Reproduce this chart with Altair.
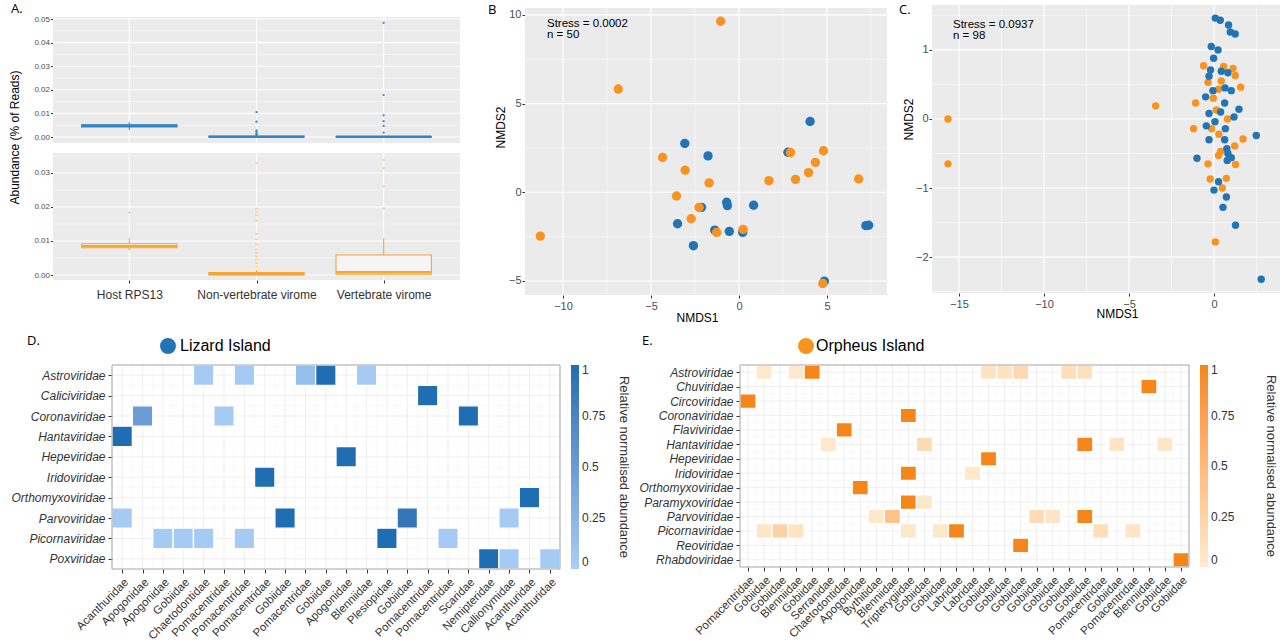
import json
import altair as alt
import pandas as pd

FONT = "Liberation Sans"
LETTER_FONT = "Open Sans"
W, H = 1280, 643
BLUE = "#2274b5"
ORANGE = "#f9931f"
BOX_BLUE = "#3585c5"
BOX_ORANGE = "#f6a635"
PANEL_BG = "#ebebeb"
ISLANDS = ["Lizard Island", "Orpheus Island"]

# ---------------- Panel A: boxplot summaries ----------------
a_categories = ["Host RPS13", "Non-vertebrate virome", "Vertebrate virome"]
a_liz_low = [0.0030, 0.0, 0.0]
a_liz_q1 = [0.0043, 0.0, 0.0]
a_liz_med = [0.0048, 0.0001, 0.0001]
a_liz_q3 = [0.0052, 0.0003, 0.0002]
a_liz_high = [0.0063, 0.0007, 0.0005]
a_liz_out_cat = [1, 1, 1, 1, 1, 1, 1, 2, 2, 2, 2, 2, 2]
a_liz_out_val = [0.0105, 0.0065, 0.0028, 0.0022, 0.0017, 0.0012, 0.0009,
                 0.0484, 0.0178, 0.0092, 0.0067, 0.0047, 0.0019]

a_orp_low = [0.0072, 0.0, 0.0]
a_orp_q1 = [0.0080, 0.0, 0.0002]
a_orp_med = [0.0085, 0.0003, 0.0008]
a_orp_q3 = [0.0092, 0.0007, 0.0059]
a_orp_high = [0.0108, 0.0015, 0.0108]
a_orp_out_cat = [0, 1, 1, 1, 1, 1, 1, 1, 1, 1, 1, 1, 1, 1, 1, 2, 2, 2, 2]
a_orp_out_val = [0.0184, 0.0330, 0.0195, 0.0185, 0.0175, 0.0160, 0.0120, 0.0105,
                 0.0090, 0.0075, 0.0065, 0.0055, 0.0045, 0.0035, 0.0025,
                 0.0338, 0.0314, 0.0260, 0.0196]
a_top_major = [0.0, 0.01, 0.02, 0.03, 0.04, 0.05]
a_top_minor = [0.005, 0.015, 0.025, 0.035, 0.045]
a_bot_major = [0.0, 0.01, 0.02, 0.03]
a_bot_minor = [0.005, 0.015, 0.025, 0.035]

# ---------------- Panel B: NMDS (n = 50) ----------------
b_stress = ["Stress = 0.0002", "n = 50"]
b_liz_x = [-3.08, -1.76, -3.49, -2.59, -2.13, -1.38, -0.70, -0.66, -0.55, 0.21, 0.83,
           2.78, 4.04, 4.85, 7.21, 7.37]
b_liz_y = [2.75, 2.05, -1.77, -3.01, -0.85, -2.13, -0.56, -0.75, -2.20, -2.26, -0.73,
           2.26, 3.99, -5.01, -1.88, -1.86]
b_orp_x = [-1.04, -6.86, -11.29, -4.34, -3.06, -1.70, -3.55, -2.27, -2.72, -1.27, 0.23,
           1.70, 2.93, 3.21, 3.95, 4.34, 4.80, 6.80, 4.76]
b_orp_y = [9.64, 5.82, -2.47, 1.96, 1.24, 0.53, -0.21, -0.85, -1.49, -2.26, -2.09,
           0.66, 2.24, 0.73, 1.11, 1.69, 2.34, 0.75, -5.14]
b_x_major = [-10, -5, 0, 5]
b_x_minor = [-7.5, -2.5, 2.5, 7.5]
b_y_major = [-5, 0, 5, 10]
b_y_minor = [-2.5, 2.5, 7.5]

# ---------------- Panel C: NMDS (n = 98) ----------------
c_stress = ["Stress = 0.0937", "n = 98"]
c_liz_x = [0.08, 0.37, 0.86, 0.96, 1.25, -0.16, 0.24, -0.02, -0.20, 0.43, -0.29, 0.82,
           -0.06, 0.65, 1.02, -0.49, 0.63, 1.47, -0.29, 0.39, 0.06, -0.45, 0.67, 1.18,
           2.49, -0.29, 0.63, 0.76, 0.82, 1.02, 0.78, -1.00, 0.27, 0.00, 0.73, 0.53,
           1.27, 2.78]
c_liz_y = [1.46, 1.43, 1.36, 1.26, 1.23, 1.05, 1.00, 0.88, 0.71, 0.69, 0.62, 0.67,
           0.41, 0.45, 0.41, 0.32, 0.23, 0.14, 0.08, 0.10, -0.04, -0.10, -0.14, 0.03,
           -0.24, -0.30, -0.30, -0.43, -0.50, -0.56, -0.60, -0.57, -0.91, -1.03, -1.13,
           -1.28, -1.54, -2.32]
c_orp_x = [-15.65, -15.65, -3.43, -0.61, 0.57, 1.12, 1.25, -0.35, 0.43, 0.27, 1.57,
           -0.04, -1.08, 0.14, 0.80, -1.20, -0.14, 0.29, 1.71, 1.22, 0.39, 0.27, -0.35,
           1.27, -0.22, 0.73, 0.49, 0.08]
c_orp_y = [0.00, -0.65, 0.19, 0.77, 0.76, 0.73, 0.63, 0.53, 0.55, 0.43, 0.46, 0.30,
           0.23, 0.13, 0.00, -0.14, -0.14, -0.22, -0.29, -0.39, -0.47, -0.53, -0.65,
           -0.66, -0.87, -0.86, -1.00, -1.78]
c_x_major = [-15, -10, -5, 0]
c_x_minor = [-12.5, -7.5, -2.5, 2.5]
c_y_major = [-2, -1, 0, 1]
c_y_minor = [-2.5, -1.5, -0.5, 0.5, 1.5]

# ---------------- Panel D: Lizard Island heatmap ----------------
d_rows = ["Astroviridae", "Caliciviridae", "Coronaviridae", "Hantaviridae", "Hepeviridae",
          "Iridoviridae", "Orthomyxoviridae", "Parvoviridae", "Picornaviridae", "Poxviridae"]
d_cols = ["Acanthuridae", "Apogonidae", "Apogonidae", "Gobiidae", "Chaetodontidae",
          "Pomacentridae", "Pomacentridae", "Pomacentridae", "Gobiidae", "Pomacentridae",
          "Gobiidae", "Apogonidae", "Blenniidae", "Plesiopidae", "Gobiidae", "Pomacentridae",
          "Pomacentridae", "Scaridae", "Nemipteridae", "Callionymidae", "Acanthuridae",
          "Acanthuridae"]
d_cell_row = ["Astroviridae"] * 5 + ["Caliciviridae"] + ["Coronaviridae"] * 3 + \
             ["Hantaviridae", "Hepeviridae", "Iridoviridae", "Orthomyxoviridae"] + \
             ["Parvoviridae"] * 4 + ["Picornaviridae"] * 6 + ["Poxviridae"] * 3
d_cell_col = [4, 6, 9, 10, 12, 15, 1, 5, 17, 0, 11, 7, 20, 0, 8, 14, 19,
              2, 3, 4, 6, 13, 16, 18, 19, 21]
d_cell_val = [0.03, 0.03, 0.15, 1.0, 0.03, 1.0, 0.5, 0.03, 1.0, 1.0, 1.0, 1.0, 1.0,
              0.03, 1.0, 0.9, 0.03, 0.03, 0.03, 0.03, 0.03, 1.0, 0.03, 1.0, 0.03, 0.03]

# ---------------- Panel E: Orpheus Island heatmap ----------------
e_rows = ["Astroviridae", "Chuviridae", "Circoviridae", "Coronaviridae", "Flaviviridae",
          "Hantaviridae", "Hepeviridae", "Iridoviridae", "Orthomyxoviridae",
          "Paramyxoviridae", "Parvoviridae", "Picornaviridae", "Reoviridae", "Rhabdoviridae"]
e_cols = ["Pomacentridae", "Gobiidae", "Gobiidae", "Blenniidae", "Gobiidae", "Serranidae",
          "Chaetodontidae", "Apogonidae", "Bythitidae", "Blenniidae", "Tripterygiidae",
          "Gobiidae", "Gobiidae", "Labridae", "Labridae", "Gobiidae", "Gobiidae", "Gobiidae",
          "Gobiidae", "Gobiidae", "Gobiidae", "Gobiidae", "Pomacentridae", "Gobiidae",
          "Pomacentridae", "Blenniidae", "Gobiidae", "Gobiidae"]
e_cell_row = ["Astroviridae"] * 8 + ["Chuviridae", "Circoviridae", "Coronaviridae",
              "Flaviviridae"] + ["Hantaviridae"] * 5 + ["Hepeviridae"] + \
             ["Iridoviridae"] * 2 + ["Orthomyxoviridae"] + ["Paramyxoviridae"] * 2 + \
             ["Parvoviridae"] * 5 + ["Picornaviridae"] * 8 + ["Reoviridae", "Rhabdoviridae"]
e_cell_col = [1, 3, 4, 15, 16, 17, 20, 21, 25, 0, 10, 6, 5, 11, 21, 23, 26, 15,
              10, 14, 7, 10, 11, 8, 9, 18, 19, 21, 1, 2, 3, 10, 12, 13, 22, 24, 17, 27]
e_cell_val = [0.04, 0.04, 1.0, 0.10, 0.10, 0.20, 0.14, 0.12, 1.0, 1.0, 1.0, 1.0,
              0.04, 0.18, 1.0, 0.08, 0.06, 1.0, 1.0, 0.05, 1.0, 1.0, 0.05,
              0.05, 0.42, 0.16, 0.08, 1.0, 0.06, 0.28, 0.08, 0.05, 0.05, 1.0, 0.14, 0.07,
              1.0, 1.0]

legend_values = [0, 0.25, 0.5, 0.75, 1]


# ---------------- helpers ----------------
def make_axis(values, label_expr, orient, offset, label_size=11, label_color="#4d4d4d",
              label_padding=1, tick_size=3, title=None, title_x=None, title_y=None, **extra):
    props = dict(values=values, labelExpr=label_expr, orient=orient, offset=offset,
                 grid=False, domain=False, labelFont=FONT, labelFontSize=label_size,
                 labelColor=label_color, labelPadding=label_padding, labelOverlap=False,
                 labelFlush=False, tickColor="#333333", tickSize=tick_size, tickWidth=1,
                 title=title)
    if title is not None:
        props.update(titleFont=FONT, titleFontSize=12, titleFontWeight="normal",
                     titleColor="black", titleX=title_x, titleY=title_y,
                     titleAlign="center", titleBaseline="middle")
    props.update(extra)
    return alt.Axis(**props)


def text_layer(text, px, py, size=13, font=LETTER_FONT):
    return alt.Chart(pd.DataFrame({"t": [text]})).mark_text(
        align="left", baseline="alphabetic", font=font, fontSize=size, color="black"
    ).encode(text="t:N", x=alt.value(px), y=alt.value(py))


class Panel:
    def __init__(self, xdom, xrange, ydom, yrange, x_axis, y_axis):
        self.xs = alt.Scale(domain=xdom, range=xrange, nice=False, zero=False)
        self.ys = alt.Scale(domain=ydom, range=yrange, nice=False, zero=False)
        self.xa, self.ya = x_axis, y_axis
        self.xdom, self.ydom = xdom, ydom

    def X(self, f):
        return alt.X(f, scale=self.xs, axis=self.xa)

    def Y(self, f):
        return alt.Y(f, scale=self.ys, axis=self.ya)

    def _frame(self):
        return pd.DataFrame({"x0": [self.xdom[0]], "x1": [self.xdom[1]],
                             "y0": [self.ydom[0]], "y1": [self.ydom[1]]})

    def background(self, fill):
        return alt.Chart(self._frame()).mark_rect(fill=fill).encode(
            x=self.X("x0:Q"), x2="x1:Q", y=self.Y("y0:Q"), y2="y1:Q")

    def border(self, color):
        return alt.Chart(self._frame()).mark_rect(fillOpacity=0, stroke=color,
                                                  strokeWidth=1).encode(
            x=self.X("x0:Q"), x2="x1:Q", y=self.Y("y0:Q"), y2="y1:Q")

    def vlines(self, values, color, width):
        df = pd.DataFrame({"v": values, "y0": self.ydom[0], "y1": self.ydom[1]})
        return alt.Chart(df).mark_rule(color=color, strokeWidth=width).encode(
            x=self.X("v:Q"), y=self.Y("y0:Q"), y2="y1:Q")

    def hlines(self, values, color, width):
        df = pd.DataFrame({"v": values, "x0": self.xdom[0], "x1": self.xdom[1]})
        return alt.Chart(df).mark_rule(color=color, strokeWidth=width).encode(
            y=self.Y("v:Q"), x=self.X("x0:Q"), x2="x1:Q")


BOX_HALF = 0.375
A_XDOM = [-0.6, len(a_categories) - 0.4]
A_XRANGE = [53, 460]


def box_facet(low, q1, med, q3, high, out_cat, out_val, color, ydom, yrange, ymajor, yminor,
              out_opacity, show_x, title=None):
    n = len(a_categories)
    x_axis = None
    if show_x:
        x_axis = make_axis(list(range(n)), f"{json.dumps(a_categories)}[datum.value]",
                           "bottom", -(H - yrange[0]), label_size=12, label_color="#333333",
                           label_padding=6, tick_size=3)
    y_axis = make_axis(ymajor, "format(datum.value, '.2f')", "left", -A_XRANGE[0],
                       label_size=8, label_padding=1, tick_size=2.5, title=title,
                       title_x=-39, title_y=137)
    p = Panel(A_XDOM, A_XRANGE, ydom, yrange, x_axis, y_axis)
    box_df = pd.DataFrame({"i": list(range(n)), "low": low, "q1": q1, "med": med,
                           "q3": q3, "high": high})
    base = alt.Chart(box_df)
    whisker = base.mark_rule(color=color, strokeWidth=1.1).encode(
        x=p.X("i:Q"), y=p.Y("low:Q"), y2="high:Q")
    box = base.transform_calculate(
        x0=f"datum.i - {BOX_HALF}", x1=f"datum.i + {BOX_HALF}"
    ).mark_rect(fill="#f5f5f5", stroke=color, strokeWidth=1.1).encode(
        x=p.X("x0:Q"), x2="x1:Q", y=p.Y("q1:Q"), y2="q3:Q")
    median = base.transform_calculate(
        x0=f"datum.i - {BOX_HALF}", x1=f"datum.i + {BOX_HALF}"
    ).mark_rule(color=color, strokeWidth=2.4).encode(
        x=p.X("x0:Q"), x2="x1:Q", y=p.Y("med:Q"))
    outliers = alt.Chart(pd.DataFrame({"i": out_cat, "v": out_val})).mark_circle(
        color=color, size=5, opacity=out_opacity).encode(x=p.X("i:Q"), y=p.Y("v:Q"))
    return alt.layer(p.background(PANEL_BG), p.hlines(yminor, "white", 0.5),
                     p.hlines(ymajor, "white", 1.1), p.vlines(list(range(n)), "white", 1.1),
                     whisker, box, median, outliers)


def scatter_panel(liz_x, liz_y, orp_x, orp_y, orange_first, xdom, xrange, ydom, yrange,
                  x_major, x_minor, y_major, y_minor, size, xtitle_x, xtitle_dy,
                  ytitle_dx, ytitle_y):
    x_axis = make_axis(x_major, "format(datum.value, 'd')", "bottom", -(H - yrange[0]),
                       label_size=11, label_padding=2, tick_size=3, title="NMDS1",
                       title_x=xtitle_x, title_y=xtitle_dy)
    y_axis = make_axis(y_major, "format(datum.value, 'd')", "left", -xrange[0],
                       label_size=11, label_padding=1, tick_size=3, title="NMDS2",
                       title_x=ytitle_dx, title_y=ytitle_y)
    p = Panel(xdom, xrange, ydom, yrange, x_axis, y_axis)
    if orange_first:
        xs_all, ys_all = orp_x + liz_x, orp_y + liz_y
        grp = [ISLANDS[1]] * len(orp_x) + [ISLANDS[0]] * len(liz_x)
    else:
        xs_all, ys_all = liz_x + orp_x, liz_y + orp_y
        grp = [ISLANDS[0]] * len(liz_x) + [ISLANDS[1]] * len(orp_x)
    df = pd.DataFrame({"x": xs_all, "y": ys_all, "island": grp})
    df["k"] = list(range(len(df)))
    pts = alt.Chart(df).mark_circle(size=size, opacity=1).encode(
        x=p.X("x:Q"), y=p.Y("y:Q"),
        color=alt.Color("island:N", scale=alt.Scale(domain=ISLANDS, range=[BLUE, ORANGE]),
                        legend=None),
        order=alt.Order("k:Q"))
    return alt.layer(p.background(PANEL_BG), p.vlines(x_minor, "white", 0.5),
                     p.hlines(y_minor, "white", 0.5), p.vlines(x_major, "white", 1.1),
                     p.hlines(y_major, "white", 1.1), pts)


def heatmap_panel(cols, rows, cell_row, cell_col, cell_val, low, high, xrange, yrange,
                  island, island_color, island_xy, island_label_offset, title_padding):
    n, m = len(cols), len(rows)
    common = dict(label_color="#333333", label_padding=3, tick_size=4)
    x_axis = make_axis(list(range(n)), f"{json.dumps(cols)}[datum.value]", "bottom",
                       -(H - yrange[1]), label_size=11.5, labelAngle=-45, labelAlign="right",
                       labelBaseline="top", **common)
    y_axis = make_axis(list(range(m)), f"{json.dumps(rows)}[datum.value]", "left",
                       -xrange[0], label_size=12, labelFontStyle="italic", **common)
    p = Panel([-0.5, n - 0.5], xrange, [-0.5, m - 0.5], yrange, x_axis, y_axis)
    df = pd.DataFrame({"c": cell_col, "r": [rows.index(r) for r in cell_row],
                       "v": cell_val})
    rect = alt.Chart(df).transform_calculate(
        x0="datum.c - 0.5", x1="datum.c + 0.5", y0="datum.r - 0.5", y1="datum.r + 0.5"
    ).mark_rect(stroke="white", strokeWidth=1.3).encode(
        x=p.X("x0:Q"), x2="x1:Q", y=p.Y("y0:Q"), y2="y1:Q",
        color=alt.Color("v:Q", scale=alt.Scale(domain=[0, 1], range=[low, high],
                                               interpolate="lab"),
                        legend=alt.Legend(
                            type="gradient", title="Relative normalised abundance",
                            orient="none", legendX=xrange[1] + 11, legendY=yrange[0],
                            padding=0, direction="vertical",
                            gradientLength=yrange[1] - yrange[0], gradientThickness=8,
                            gradientStrokeWidth=0, values=legend_values, format=".2~f",
                            labelFont=FONT, labelFontSize=12, labelColor="#333333",
                            labelOffset=3, labelOverlap=False,
                            titleOrient="right", titleAnchor="middle", titleLimit=400,
                            titleFont=FONT, titleFontSize=13, titleFontWeight="normal",
                            titleColor="#333333", titlePadding=title_padding)))
    key = alt.Chart(pd.DataFrame({"island": [island]})).transform_filter("false").mark_point(
        filled=True, color=island_color, size=254, opacity=1).encode(
        shape=alt.Shape("island:N", scale=alt.Scale(domain=[island], range=["circle"]),
                        legend=alt.Legend(orient="none", legendX=island_xy[0],
                                          legendY=island_xy[1], title=None, padding=0,
                                          labelFont=FONT, labelFontSize=16,
                                          labelColor="black",
                                          labelOffset=island_label_offset,
                                          symbolSize=254, symbolType="circle",
                                          symbolFillColor=island_color,
                                          symbolStrokeWidth=0, symbolOpacity=1)))
    half = [k + 0.5 for k in range(-1, n)]
    halfy = [k + 0.5 for k in range(-1, m)]
    return alt.layer(p.vlines(half, "#f0f0f0", 0.4), p.hlines(halfy, "#f0f0f0", 0.4),
                     p.vlines(list(range(n)), "#ebebeb", 0.8),
                     p.hlines(list(range(m)), "#ebebeb", 0.8),
                     rect, p.border("#a6a6a6"), key)


# ---------------- build panels (all in one view with explicit scale ranges) ----------------
top_a = box_facet(a_liz_low, a_liz_q1, a_liz_med, a_liz_q3, a_liz_high, a_liz_out_cat,
                  a_liz_out_val, BOX_BLUE, [-0.00254, 0.05085], [143, 17], a_top_major,
                  a_top_minor, 1.0, False, title="Abundance (% of Reads)")
bot_a = box_facet(a_orp_low, a_orp_q1, a_orp_med, a_orp_q3, a_orp_high, a_orp_out_cat,
                  a_orp_out_val, BOX_ORANGE, [-0.00147, 0.03588], [280, 153], a_bot_major,
                  a_bot_minor, 0.55, True)

panel_b = scatter_panel(b_liz_x, b_liz_y, b_orp_x, b_orp_y, False, [-12.16, 8.41], [525, 887],
                        [-5.79, 10.39], [295, 8], b_x_major, b_x_minor, b_y_major, b_y_minor,
                        88, 697, 22, -25, 127)
panel_c = scatter_panel(c_liz_x, c_liz_y, c_orp_x, c_orp_y, True, [-16.59, 5.18], [932, 1302],
                        [-2.52, 1.65], [293, 5], c_x_major, c_x_minor, c_y_major, c_y_minor,
                        55, 1117, 20.5, -24, 119)

panel_d = heatmap_panel(d_cols, d_rows, d_cell_row, d_cell_col, d_cell_val, "#a9cef7",
                        "#1f6db2", [112, 560], [365, 569], "Lizard Island", BLUE, (160, 338),
                        4, 12)
panel_e = heatmap_panel(e_cols, e_rows, e_cell_row, e_cell_col, e_cell_val, "#feecd2",
                        "#f7861a", [740, 1189], [365, 567], "Orpheus Island", ORANGE,
                        (798, 338), 2, 30)

labels = alt.layer(
    text_layer("A.", 11, 13), text_layer("B", 488, 13.5), text_layer("C.", 899, 14),
    text_layer("D.", 27, 345), text_layer("E.", 642, 345),
    text_layer(b_stress[0], 547, 26.8, 11.5, FONT),
    text_layer(b_stress[1], 547, 37.8, 11.5, FONT),
    text_layer(c_stress[0], 953, 28, 11.5, FONT),
    text_layer(c_stress[1], 953, 39, 11.5, FONT),
)

chart = alt.layer(top_a, bot_a, panel_b, panel_c, panel_d, panel_e, labels).resolve_scale(
    x="independent", y="independent", color="independent", shape="independent"
).resolve_legend(color="independent", shape="independent").properties(
    width=W, height=H, autosize=alt.AutoSizeParams(type="none"),
    padding={"left": 0, "top": 0, "right": 0, "bottom": 0}, background="white"
).configure(font=FONT).configure_view(stroke=None)

chart.save("out.html", embed_options={"renderer": "svg", "actions": False})
